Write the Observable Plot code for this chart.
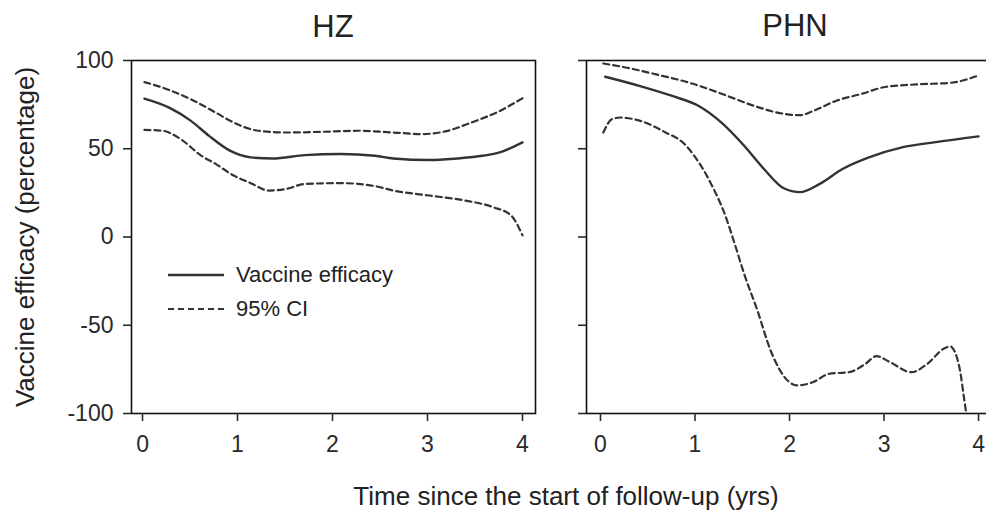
<!DOCTYPE html>
<html>
<head>
<meta charset="utf-8">
<script src="https://cdn.jsdelivr.net/npm/d3@7"></script>
<script src="https://cdn.jsdelivr.net/npm/@observablehq/plot@0.6"></script>
<style>
  html, body { margin: 0; padding: 0; background: #fff; overflow: hidden; }
  #wrap { position: relative; width: 986px; height: 518px; overflow: hidden; background: #fff;
          font-family: "Liberation Sans", Arial, sans-serif; color: #222; }
  .abs { position: absolute; white-space: nowrap; }
  .panel { position: absolute; top: 0; }
</style>
</head>
<body>
<div id="wrap"></div>
<script>
// ---------- data ----------
const panels = ["HZ", "PHN"];
const yTicks = [-100, -50, 0, 50, 100];
const xTicks = [0, 1, 2, 3, 4];
const legendLabels = ["Vaccine efficacy", "95% CI"];
const xTitle = "Time since the start of follow-up (yrs)";
const yTitle = "Vaccine efficacy (percentage)";

// HZ panel
const hzVeT = [0.02, 0.28, 0.51, 0.70, 0.92, 1.14, 1.37, 1.71, 2.08, 2.45, 2.64, 3.02, 3.31, 3.58, 3.76, 4.0];
const hzVe  = [78.4, 73.3, 65.8, 57.3, 48.9, 45.1, 44.5, 46.4, 47.0, 46.0, 44.5, 43.6, 44.5, 46.0, 47.9, 53.6];
const hzUpT = [0.02, 0.28, 0.51, 0.77, 0.96, 1.22, 1.52, 1.89, 2.27, 2.64, 2.94, 3.20, 3.46, 3.76, 4.0];
const hzUp  = [87.8, 83.3, 78.0, 70.5, 64.8, 60.2, 59.2, 59.6, 60.2, 59.2, 58.3, 60.0, 64.8, 71.4, 78.6];
const hzLoT = [0.02, 0.21, 0.40, 0.62, 0.77, 0.96, 1.14, 1.33, 1.52, 1.71, 2.08, 2.27, 2.45, 2.64, 3.02, 3.39, 3.69, 3.88, 4.0];
const hzLo  = [60.7, 60.2, 55.5, 46.0, 41.4, 34.8, 30.5, 26.3, 27.3, 30.1, 30.5, 30.1, 28.8, 26.3, 23.5, 20.7, 16.9, 12.2, 0.9];

// PHN panel
const phnVeT = [0.05, 0.42, 0.76, 1.04, 1.28, 1.52, 1.73, 1.94, 2.11, 2.32, 2.56, 2.84, 3.19, 3.53, 4.0];
const phnVe  = [90.8, 85.5, 79.9, 74.2, 64.8, 51.7, 38.5, 27.6, 25.4, 30.1, 38.5, 45.1, 50.8, 53.6, 57.0];
const phnUpT = [0.03, 0.28, 0.59, 0.94, 1.28, 1.63, 1.87, 2.11, 2.25, 2.49, 2.77, 3.01, 3.36, 3.71, 4.0];
const phnUp  = [98.3, 95.9, 92.1, 87.4, 81.2, 74.2, 70.5, 69.0, 71.4, 77.1, 81.2, 85.0, 86.5, 87.4, 91.5];
const phnLoT = [0.03, 0.12, 0.21, 0.42, 0.69, 0.87, 1.04, 1.18, 1.32, 1.42, 1.52, 1.66, 1.80, 1.90, 2.08, 2.25, 2.42, 2.63, 2.80, 2.92, 3.05, 3.29, 3.46, 3.64, 3.70, 3.76, 3.81, 3.84, 3.87];
const phnLo  = [59.2, 66.7, 67.7, 65.8, 59.2, 53.6, 42.3, 29.1, 12.2, -3.9, -20.9, -41.6, -64.3, -75.6, -84.1, -82.2, -77.5, -76.6, -72.0, -67.5, -70.5, -76.6, -71.8, -63.0, -62.0, -66.5, -77.5, -88.8, -100];

// ---------- helpers ----------
const rows = (ts, vs) => ts.map((t, i) => ({t, v: vs[i]}));
const FONT = '"Liberation Sans", Arial, sans-serif';
const INK = "#2a2a2a";
const LINE = "#333";
const DASH = "6,4";
const wrap = document.getElementById("wrap");

function panel(opts) {
  const {ve, up, lo, xDomain, width, marginLeft, showYLabels} = opts;
  return Plot.plot({
    width, height: 473,
    marginLeft, marginRight: 10, marginTop: 60, marginBottom: 60,
    x: {domain: xDomain},
    y: {domain: [-100, 100]},
    style: {fontFamily: FONT, fontSize: "23px", color: INK, background: "transparent", overflow: "visible"},
    marks: [
      Plot.line(rows(up[0], up[1]), {x: "t", y: "v", stroke: LINE, strokeWidth: 2.2, strokeDasharray: DASH, curve: "monotone-x", clip: true}),
      Plot.line(rows(lo[0], lo[1]), {x: "t", y: "v", stroke: LINE, strokeWidth: 2.2, strokeDasharray: DASH, curve: "monotone-x", clip: true}),
      Plot.line(rows(ve[0], ve[1]), {x: "t", y: "v", stroke: LINE, strokeWidth: 2.4, curve: "monotone-x", clip: true}),
      Plot.frame({stroke: "#111", strokeWidth: 1.6}),
      Plot.axisX({ticks: xTicks, tickSize: 8, tickPadding: 14, label: null, fontSize: 23, tickFormat: d => String(d), strokeWidth: 1.6}),
      Plot.axisY({ticks: yTicks, tickSize: 8, tickPadding: 10, label: null, fontSize: 23,
                  tickFormat: showYLabels ? (d => String(d)) : (() => ""), strokeWidth: 1.6})
    ]
  });
}

// left panel (HZ)
const left = panel({
  ve: [hzVeT, hzVe], up: [hzUpT, hzUp], lo: [hzLoT, hzLo],
  xDomain: [-0.116, 4.137], width: 545, marginLeft: 131, showYLabels: true
});
left.classList.add("panel");
left.style.left = "0px";
wrap.appendChild(left);

// right panel (PHN)
const right = panel({
  ve: [phnVeT, phnVe], up: [phnUpT, phnUp], lo: [phnLoT, phnLo],
  xDomain: [-0.148, 4.137], width: 441, marginLeft: 26, showYLabels: false
});
right.classList.add("panel");
right.style.left = "560px";
wrap.appendChild(right);

// ---------- text ----------
function addText(txt, css) {
  const d = document.createElement("div");
  d.className = "abs";
  d.textContent = txt;
  Object.assign(d.style, css);
  wrap.appendChild(d);
  return d;
}
addText(panels[0], {left: "333px", top: "27px", fontSize: "31px", transform: "translate(-50%,-50%)"});
addText(panels[1], {left: "795px", top: "26px", fontSize: "31px", transform: "translate(-50%,-50%)"});
addText(xTitle, {left: "566px", top: "496px", fontSize: "26px", transform: "translate(-50%,-50%)"});
addText(yTitle, {left: "25px", top: "237px", fontSize: "26px", transform: "translate(-50%,-50%) rotate(-90deg)"});

// legend
function legendRow(label, dashed, y) {
  const ns = "http://www.w3.org/2000/svg";
  const s = document.createElementNS(ns, "svg");
  s.setAttribute("width", 56); s.setAttribute("height", 6);
  s.style.position = "absolute"; s.style.left = "168px"; s.style.top = (y - 3) + "px";
  const l = document.createElementNS(ns, "line");
  l.setAttribute("x1", 0); l.setAttribute("x2", 56); l.setAttribute("y1", 3); l.setAttribute("y2", 3);
  l.setAttribute("stroke", LINE); l.setAttribute("stroke-width", dashed ? 2.2 : 2.4);
  if (dashed) l.setAttribute("stroke-dasharray", DASH);
  s.appendChild(l);
  wrap.appendChild(s);
  addText(label, {left: "236px", top: y + "px", fontSize: "22px", transform: "translateY(-50%)"});
}
legendRow(legendLabels[0], false, 275);
legendRow(legendLabels[1], true, 309);
</script>
</body>
</html>
